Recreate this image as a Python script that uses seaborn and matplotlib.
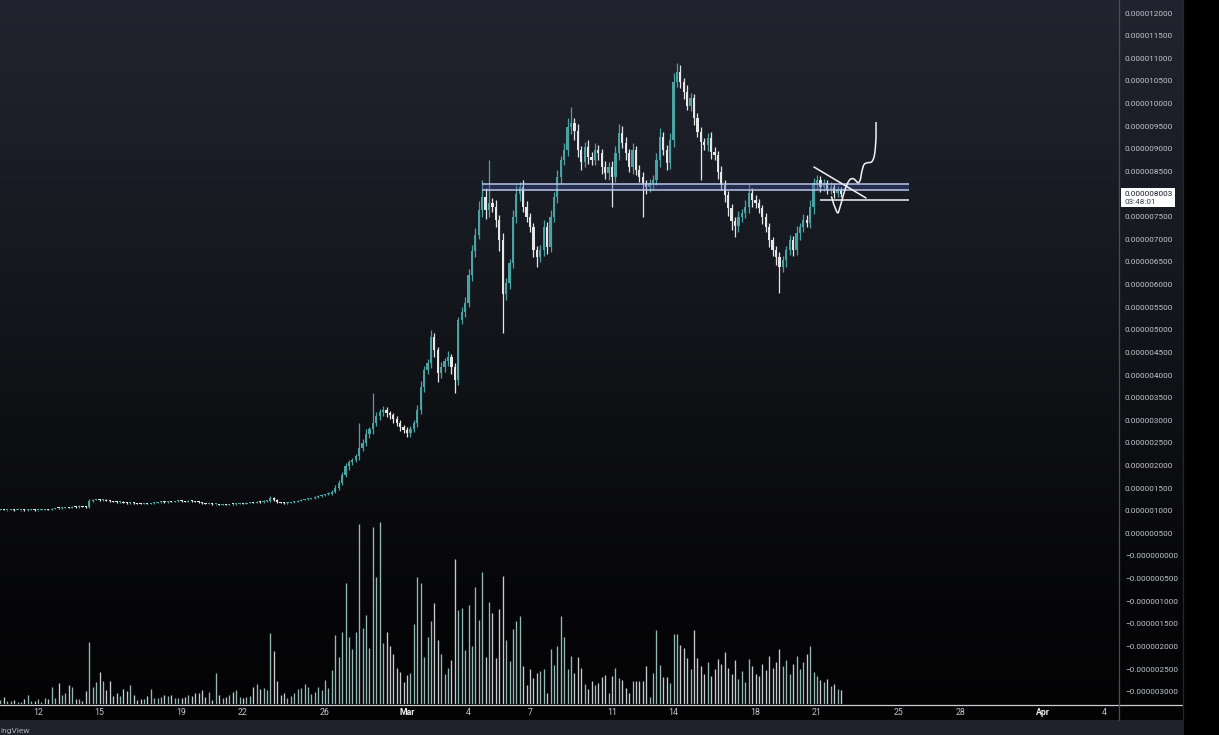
import numpy as np
import pandas as pd
import matplotlib
matplotlib.use("Agg")
import matplotlib.pyplot as plt
import matplotlib.dates as mdates
import seaborn as sns
from matplotlib.patches import Rectangle, PathPatch
from matplotlib.path import Path
from matplotlib.lines import Line2D

W, H = 1219, 735

# ---------------- data (prices in units of 1e-6) ----------------
first_candle = "2024-02-10 04:00"
close = [
    1.02, 1.01, 1.02, 1.02, 1.01, 1.01, 1.02, 1.01, 1.02, 1.02, 1.01, 1.02, 1.02, 1.03, 1.02,
    1.04, 1.06, 1.05, 1.07, 1.08, 1.07, 1.09, 1.08, 1.10, 1.09, 1.08,
    1.22, 1.24, 1.25, 1.23, 1.24, 1.22, 1.21,
    1.20, 1.19, 1.20, 1.18, 1.17, 1.18, 1.17,
    1.16, 1.15, 1.16, 1.15, 1.17, 1.18,
    1.19, 1.20, 1.19, 1.21, 1.20, 1.21, 1.22, 1.21, 1.20, 1.22, 1.21, 1.20, 1.19,
    1.17, 1.15, 1.16, 1.14, 1.15, 1.13,
    1.14, 1.13, 1.15, 1.14, 1.16, 1.17, 1.16,
    1.18, 1.19, 1.18, 1.20, 1.19, 1.21,
    1.22, 1.29, 1.24,
    1.19, 1.18, 1.17, 1.18, 1.19, 1.20,
    1.22, 1.24, 1.25, 1.27, 1.28, 1.30, 1.32, 1.35, 1.36, 1.38, 1.42,
    1.50, 1.62, 1.80, 1.98, 2.08, 2.12, 2.20, 2.38, 2.50, 2.70, 2.80, 2.95, 3.10, 3.18, 3.22,
    3.15, 3.12, 3.02, 2.94, 2.85, 2.78, 2.72, 2.80, 2.94,
    3.23, 3.74, 4.11, 4.26, 4.84, 4.55, 4.04, 4.18, 4.30, 4.40, 4.18, 3.89,
    5.21, 5.40, 5.60, 6.20, 6.75, 7.10, 7.65, 7.93, 7.65, 7.80, 7.72, 7.43, 6.98,
    5.80, 6.03, 6.47, 7.49, 8.00, 8.15, 7.72, 7.49, 7.27, 6.76, 6.60, 6.76, 7.27, 6.83,
    7.49, 7.93, 8.38, 8.75, 8.97, 9.48, 9.56, 9.40, 8.97, 8.71, 9.04, 8.82, 8.75, 8.97, 8.90,
    8.60, 8.46, 8.60, 8.38, 8.90, 9.35, 9.13, 8.90, 8.60, 8.97, 8.53, 8.38, 8.24, 8.15, 8.24,
    8.31, 8.75, 9.26, 8.97, 8.68, 9.19,
    10.47, 10.70, 10.47, 10.25, 9.95, 10.12, 9.68, 9.37, 9.15, 9.08, 9.24, 8.93, 8.86, 8.49,
    8.20, 7.98, 7.69, 7.40,
    7.30, 7.50, 7.58, 7.71, 8.02, 7.87, 7.80, 7.68, 7.49, 7.27, 6.98, 6.76, 6.60, 6.39, 6.54,
    6.76, 6.98, 6.76, 7.14, 7.27, 7.43, 7.36, 7.71, 8.24, 8.31, 8.15, 8.24, 8.09, 8.15, 8.02,
    8.09, 8.003,
]
# wick lengths in hundredths (0.01e-6) above / below the body
wick_up = [
    1, 1, 0, 1, 1, 1, 0, 1, 1, 1, 1, 0, 1, 1, 1, 2, 1, 1, 1, 1,
    1, 1, 1, 2, 1, 1, 3, 2, 1, 1, 1, 1, 1, 1, 1, 1, 1, 1, 1, 1,
    1, 1, 1, 1, 1, 1, 1, 2, 1, 1, 1, 1, 1, 1, 1, 1, 1, 1, 1, 1,
    1, 1, 1, 1, 1, 1, 1, 1, 1, 1, 1, 1, 1, 1, 1, 1, 2, 2, 2, 4,
    2, 1, 1, 1, 1, 1, 1, 1, 2, 1, 2, 1, 2, 2, 3, 2, 3, 4,
    6, 5, 6, 8, 5, 5, 6, 56, 8, 10, 6, 65, 8, 6, 10,
    8, 6, 5, 8, 6, 5, 6, 8, 6,
    10, 12, 8, 10, 16, 8, 6, 10, 8, 12, 6, 8,
    8, 10, 12, 15, 12, 15, 20, 38, 20, 95, 12, 15, 10,
    15, 12, 10, 15, 20, 12, 15, 12, 10, 8, 10, 12, 15, 12,
    15, 12, 15, 10, 15, 20, 36, 12, 15, 10, 12, 15, 10, 15, 12,
    10, 12, 10, 12, 15, 20, 15, 12, 10, 15, 10, 12, 10, 8, 10, 12, 15, 20, 10, 12, 15,
    20, 20, 15, 10, 15, 12, 10, 10, 12, 8, 10, 12, 10, 8, 12, 10, 8, 10,
    10, 12, 8, 15, 20, 12, 10, 10, 8, 8, 10, 8, 10, 12, 8, 10, 12, 10, 15, 10, 12, 10, 15, 12,
    10, 8, 10, 8, 12, 10, 8, 6,
]
wick_dn = [
    1, 0, 1, 1, 1, 0, 1, 1, 1, 0, 1, 1, 1, 1, 1, 1, 1, 2, 1, 1,
    1, 1, 1, 1, 1, 2, 1, 2, 1, 1, 1, 1, 1, 1, 1, 1, 1, 1, 1, 1,
    1, 1, 1, 1, 1, 1, 1, 1, 1, 1, 1, 1, 1, 1, 1, 1, 1, 1, 2, 1,
    1, 1, 1, 1, 1, 1, 1, 1, 1, 1, 1, 1, 1, 1, 1, 1, 1, 1, 1, 2,
    2, 1, 1, 1, 1, 1, 1, 1, 1, 1, 1, 1, 1, 2, 1, 2, 2, 3,
    3, 5, 6, 5, 8, 6, 5, 8, 6, 8, 10, 10, 8, 10, 8,
    8, 10, 8, 6, 8, 6, 10, 8, 6,
    8, 10, 12, 8, 10, 15, 20, 10, 12, 10, 15, 29,
    10, 8, 12, 10, 12, 15, 10, 15, 20, 15, 12, 15, 25,
    87, 15, 12, 10, 12, 15, 12, 10, 12, 15, 22, 10, 12, 15,
    12, 10, 12, 15, 10, 12, 15, 20, 15, 18, 12, 15, 12, 10, 15,
    15, 12, 15, 67, 12, 15, 12, 15, 12, 15, 10, 12, 75, 15, 10, 12, 12, 15, 10, 15, 12,
    15, 10, 12, 15, 10, 12, 15, 12, 84, 10, 12, 15, 10, 15, 12, 15, 18, 20,
    25, 15, 12, 10, 12, 15, 12, 10, 15, 12, 15, 12, 18, 58, 12, 15, 10, 12, 10, 15, 12, 10,
    12, 15, 12, 10, 8, 10, 8, 10, 8, 6,
]
volume = [
    4, 7, 3, 3, 4, 2, 2, 5, 9, 3, 3, 5, 2, 6, 5, 17, 6, 21, 9, 11,
    19, 17, 5, 5, 3, 13, 62, 17, 22, 32, 23, 14, 23, 8, 11, 8, 15, 13, 19, 9,
    4, 5, 5, 8, 15, 6, 6, 7, 9, 8, 9, 6, 6, 6, 7, 9, 8, 11, 11, 14,
    7, 12, 4, 31, 9, 6, 7, 9, 12, 14, 7, 6, 7, 8, 17, 20, 15, 16, 14, 71,
    53, 23, 9, 11, 6, 8, 11, 15, 16, 20, 17, 10, 12, 17, 14, 24, 16, 34, 69, 47,
    72, 121,
    67, 55, 72, 180, 76, 89, 56, 177, 127, 182, 61, 72, 58, 50, 36, 32, 22, 29, 31, 80,
    127, 121, 47, 67, 83, 101, 64, 50, 30, 36, 44, 145, 94, 96, 54, 99, 58, 117, 84, 132,
    47, 102, 91, 46, 95, 128, 64, 43, 75, 83, 88, 38, 19, 35, 26, 31, 33, 35, 11, 55,
    39, 58, 88, 67, 35, 48, 31, 47, 36, 20, 15, 23, 19, 21, 27, 29, 11, 28, 36, 26,
    24, 16, 11, 23, 23, 23, 23, 38, 7, 31, 74, 39, 27, 27, 21, 70, 70, 59, 56, 46,
    35, 74, 46,
    38, 30, 42, 28, 35, 45, 40, 52, 36, 30, 44, 25, 33, 22, 45, 38, 30, 28, 40, 34,
    48, 36, 42, 55, 38, 44, 30, 40, 48, 35, 42, 50, 58, 32, 28, 24, 22, 25, 18, 20,
    15, 14,
]

date_ref = "2024-02-12"
date_tick_days = [0, 3, 7, 10, 14, 18, 21, 24, 28, 31, 35, 38, 42, 45, 49, 52]
date_tick_labels = ["12", "15", "19", "22", "26", "Mar", "4", "7", "11", "14",
                    "18", "21", "25", "28", "Apr", "4"]
price_ticks = [-3.0, -2.5, -2.0, -1.5, -1.0, -0.5, 0.0, 0.5, 1.0, 1.5, 2.0, 2.5, 3.0,
               3.5, 4.0, 4.5, 5.0, 5.5, 6.0, 6.5, 7.0, 7.5, 8.5, 9.0, 9.5, 10.0,
               10.5, 11.0, 11.5, 12.0]

# drawings (days since 12 Feb, price 1e-6)
zone_days = [21.66, 42.5]
zone_prices = [8.088, 8.221]
support_days = [38.15, 42.5]
support_price = 7.867
trend_days = [37.85, 40.39]
trend_prices = [8.597, 7.912]
path_days = [38.70, 38.98, 39.12, 39.46, 39.76, 40.08, 40.22, 40.40, 40.75, 40.88, 40.88]
path_prices = [7.95, 7.50, 7.70, 8.26, 8.38, 8.18, 8.62, 8.70, 8.69, 9.10, 9.59]
last_price_text = "0.000008003"
countdown_text = "03:48:01"

# ---------------- styling ----------------
sns.set_theme(style="dark", rc={"axes.grid": False})
plt.rcParams["font.family"] = ["Roboto", "DejaVu Sans"]

UP = "#4aa3a2"
DOWN = "#e6e6e6"
VUP = "#93b9b7"
VDOWN = "#c8cbcd"
TXT = "#c3c6ce"

fig = plt.figure(figsize=(W / 100, H / 100), dpi=100)


def fx(x):
    return x / W


def fy(y):
    return 1 - y / H


# background gradient
bg = fig.add_axes([0, 0, 1, 1])
bg.set_zorder(-5)
rows = np.arange(H)
stops_y = [0, 250, 450, 600, 720]
stops_c = [(33, 36, 48), (23, 25, 32), (13, 14, 17), (6, 6, 8), (3, 3, 4)]
img = np.zeros((H, W, 3))
for ch in range(3):
    img[:, :, ch] = np.interp(rows, stops_y, [c[ch] for c in stops_c])[:, None]
img[720:, :, :] = (31, 34, 43)
img[:, 1184:, :] = 0
bg.imshow(img / 255.0, extent=[0, W, H, 0], aspect="auto", interpolation="nearest")
bg.set_xlim(0, W)
bg.set_ylim(H, 0)
bg.axis("off")

ax = fig.add_axes([0, fy(704), 1119 / W, 704 / H])
ax.patch.set_alpha(0)

n = len(close)
c = np.array(close[:n])
o = np.concatenate([[c[0]], c[:-1]])
wu = np.array(wick_up[:n]) / 100.0
wd = np.array(wick_dn[:n]) / 100.0
hi = np.maximum(o, c) + wu
lo = np.minimum(o, c) - wd
t = mdates.date2num(pd.date_range(first_candle, periods=n, freq="4h"))
base = mdates.date2num(pd.Timestamp(date_ref))
up = c >= o
colors = np.where(up, UP, DOWN)

ax.vlines(t, lo, hi, colors=colors, lw=0.9, zorder=3)
body = np.maximum(np.abs(c - o), 0.022)
ax.bar(t, body, bottom=np.minimum(o, c), width=0.11, color=colors, lw=0, zorder=4)

px_per_day = 20.5
ax.set_xlim(base - 38 / px_per_day, base + (1119 - 38) / px_per_day)
ax.set_ylim((556 - 704) / 45.25, 556 / 45.25)

# drawings
zd = [base + d for d in zone_days]
ax.fill_between(zd, zone_prices[0], zone_prices[1], color="#3d4f9e", alpha=0.35, lw=0, zorder=5)
ax.hlines(zone_prices, zd[0], zd[1], colors="#b9c5ea", lw=1.1, zorder=6)
ax.hlines(support_price, base + support_days[0], base + support_days[1], colors="#f2f2f2", lw=1.1, zorder=6)
ax.plot([base + d for d in trend_days], trend_prices, color="#f2f2f2", lw=1.1, zorder=6)

pts = np.column_stack([np.array(path_days) + base, path_prices])
verts = [pts[0]]
codes = [Path.MOVETO]
for k in range(1, len(pts) - 1):
    verts += [pts[k], (pts[k] + pts[k + 1]) / 2]
    codes += [Path.CURVE3, Path.CURVE3]
verts.append(pts[-1])
codes.append(Path.LINETO)
ax.add_patch(PathPatch(Path(verts, codes), facecolor="none", edgecolor="#f2f2f2", lw=1.1, zorder=6))

# volume pane
ax2 = ax.twinx()
ax2.patch.set_alpha(0)
ax2.set_ylim(0, 704)
vcol = np.where(up, VUP, VDOWN)
ax2.vlines(t, 0, np.array(volume[:n]), colors=vcol, lw=0.95, zorder=2)
ax2.set_yticks([])
ax2.tick_params(axis="both", length=0, labelleft=False, labelright=False)
for s in ax2.spines.values():
    s.set_visible(False)

# axes ticks (after twinx, which resets the tick side)
ax.yaxis.tick_right()
ax.set_yticks(price_ticks)
ax.set_yticklabels([("\u2212" if v <= 0 else "") + f"{abs(v) * 1e-6:.9f}" for v in price_ticks])
ax.tick_params(axis="y", which="both", length=0, pad=4.3, labelsize=5.9, labelcolor=TXT,
               left=False, labelleft=False, right=True, labelright=True)
ax.set_xticks([base + d for d in date_tick_days])
ax.set_xticklabels(date_tick_labels)
ax.tick_params(axis="x", length=0, pad=3.0, labelsize=6.3, labelcolor=TXT)
for lab in ax.get_xticklabels():
    if lab.get_text() in ("Mar", "Apr"):
        lab.set_fontweight("bold")
        lab.set_color("#f0f0f0")
for s in ax.spines.values():
    s.set_visible(False)

# frame lines
fig.add_artist(Line2D([0, fx(1182)], [fy(704.5), fy(704.5)], color="#c9ccd2", lw=0.9))
fig.add_artist(Line2D([fx(1119), fx(1119)], [fy(0), fy(720)], color="#4a4d57", lw=0.9))
fig.add_artist(Line2D([fx(1182.5), fx(1182.5)], [fy(0), fy(720)], color="#24272f", lw=0.9))

# last price badge
fig.add_artist(Rectangle((fx(1121), fy(207)), 54 / W, 19 / H, transform=fig.transFigure,
                         facecolor="#ffffff", edgecolor="none"))
fig.text(fx(1124.5), fy(193.5), last_price_text, fontsize=5.9, color="#131722", va="center", ha="left")
fig.text(fx(1124.5), fy(202.5), countdown_text, fontsize=5.9, color="#3a3d45", va="center", ha="left")

fig.text(fx(0.5), fy(731), "ingView", fontsize=6, color="#aeb1b9", va="center", ha="left")

fig.savefig("out.png", dpi=100, facecolor="black")
